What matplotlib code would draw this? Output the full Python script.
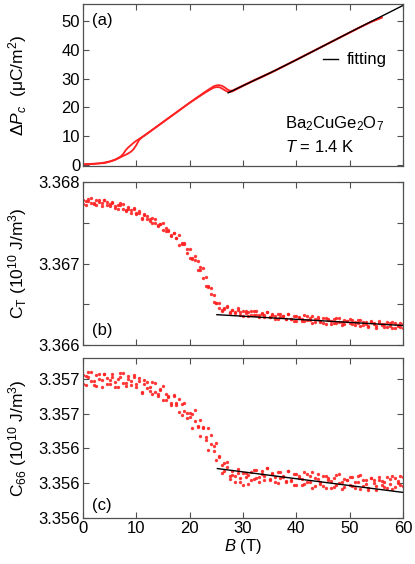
import matplotlib
matplotlib.use('Agg')
import matplotlib.pyplot as plt
import matplotlib.ticker
import numpy as np

# (a) polarization, two field sweeps
b_pol = [0, 1, 2, 3, 4, 5, 6, 7, 7.5, 8, 8.5, 9, 9.5, 10, 10.5, 11, 12, 14, 16, 18, 20, 22, 23, 24,
         24.5, 25, 25.5, 26, 26.5, 27, 27.5, 28, 30, 32, 34, 36, 38, 40, 42, 44, 46, 48, 50, 52, 54, 56]
pol_1 = [0.1, 0.2, 0.3, 0.4, 0.7, 1.1, 1.7, 2.7, 3.6, 5.0, 6.0, 6.8, 7.6, 8.3, 8.9, 9.5, 10.8, 13.5,
         16.2, 18.9, 21.6, 24.2, 25.5, 26.7, 27.3, 27.6, 27.7, 27.5, 27.0, 26.3, 25.8, 25.8, 27.6, 29.4,
         31.1, 32.8, 34.7, 36.6, 38.5, 40.4, 42.3, 44.2, 46.1, 48.0, 49.8, 51.4]
pol_2 = [0.0, 0.1, 0.2, 0.4, 0.5, 1.0, 1.6, 2.5, 3.0, 3.4, 3.9, 4.5, 5.4, 6.8, 8.5, 9.4, 10.7, 13.4,
         16.1, 18.8, 21.5, 24.0, 25.2, 26.3, 26.8, 27.0, 27.0, 26.6, 26.0, 25.5, 25.3, 25.5, 27.4, 29.2,
         30.9, 32.7, 34.6, 36.5, 38.4, 40.3, 42.2, 44.1, 46.0, 47.9, 49.7, 51.2]
b_pol_fit = [27.2, 30, 35, 40, 45, 50, 55, 60]
pol_fit = [25.0, 27.5, 31.9, 36.5, 41.3, 46.1, 50.8, 55.5]

# field grid of the ultrasound data (T)
b_us = [0, 0.5, 1, 1.5, 2, 2.5, 3, 3.5, 4, 4.5, 5, 5.5, 6, 6.5, 7, 7.5, 8, 8.5, 9, 9.5,
        10, 10.5, 11, 11.5, 12, 12.5, 13, 13.5, 14, 14.5, 15, 15.5, 16, 16.5, 17, 17.5, 18, 18.5, 19, 19.5,
        20, 20.5, 21, 21.5, 22, 22.5, 23, 23.5, 24, 24.5, 25, 25.5, 26, 26.5, 27, 27.5, 28, 28.5, 29, 29.5,
        30, 30.5, 31, 31.5, 32, 32.5, 33, 33.5, 34, 34.5, 35, 35.5, 36, 36.5, 37, 37.5, 38, 38.5, 39, 39.5,
        40, 40.5, 41, 41.5, 42, 42.5, 43, 43.5, 44, 44.5, 45, 45.5, 46, 46.5, 47, 47.5, 48, 48.5, 49, 49.5,
        50, 50.5, 51, 51.5, 52, 52.5, 53, 53.5, 54, 54.5, 55, 55.5, 56, 56.5, 57, 57.5, 58, 58.5, 59, 59.5, 60]

# (b) C_T, in 1e-6 above 3.366 (x 1e10 J/m^3)
ct_base = 3.366
ct_up = [1775, 1721, 1765, 1799, 1742, 1716, 1783, 1745, 1780, 1716, 1732, 1740, 1677, 1716, 1741, 1674, 1646, 1689, 1652, 1678,
         1605, 1624, 1550, 1608, 1552, 1547, 1496, 1546, 1471, 1490, 1414, 1437, 1400, 1348, 1378, 1308, 1344, 1238, 1246, 1177,
         1177, 1068, 1086, 1028, 954, 947, 834, 720, 701, 614, 516, 521, 426, 451, 483, 410, 431, 387, 435, 403,
         356, 415, 399, 366, 421, 370, 340, 398, 364, 406, 345, 371, 324, 381, 340, 350, 316, 378, 316, 355,
         293, 340, 322, 295, 352, 302, 358, 277, 315, 284, 331, 259, 315, 298, 266, 330, 283, 248, 305, 292,
         265, 310, 241, 273, 312, 246, 278, 234, 288, 256, 214, 272, 260, 226, 283, 235, 207, 265, 232, 275, 214]
ct_down = [1727, 1771, 1797, 1747, 1724, 1778, 1758, 1705, 1775, 1750, 1710, 1758, 1709, 1668, 1715, 1730, 1661, 1673, 1625, 1666,
           1623, 1643, 1554, 1589, 1584, 1524, 1563, 1498, 1460, 1482, 1496, 1403, 1405, 1337, 1374, 1319, 1232, 1255, 1235, 1133,
           1065, 1054, 1043, 919, 920, 826, 721, 717, 623, 529, 517, 456, 413, 447, 470, 398, 431, 402, 448, 369,
           421, 396, 350, 417, 368, 415, 370, 382, 339, 410, 338, 376, 352, 316, 380, 353, 324, 376, 324, 292,
           353, 327, 291, 362, 305, 336, 269, 325, 344, 300, 276, 330, 306, 258, 318, 276, 334, 286, 255, 293,
           313, 255, 279, 312, 235, 285, 258, 223, 289, 273, 237, 289, 240, 253, 215, 267, 283, 214, 246, 220, 261]
b_ct_fit = [25.1, 60]
ct_fit = [3.366372, 3.366239]

# (c) C66, in 1e-6 above 3.356 (x 1e10 J/m^3)
c66_base = 3.356
c66_up = [772, 815, 840, 790, 767, 821, 801, 752, 825, 805, 772, 826, 783, 751, 808, 834, 775, 799, 762, 810,
          773, 804, 725, 773, 782, 732, 782, 727, 701, 734, 758, 681, 700, 649, 701, 662, 607, 656, 663, 604,
          580, 599, 618, 529, 565, 521, 466, 516, 475, 413, 432, 358, 303, 318, 323, 244, 271, 239, 281, 204,
          259, 237, 196, 267, 223, 275, 236, 254, 216, 289, 219, 259, 237, 202, 267, 241, 213, 268, 219, 188,
          252, 227, 192, 264, 208, 241, 174, 232, 251, 209, 186, 242, 218, 171, 232, 192, 251, 206, 176, 217,
          238, 182, 209, 243, 169, 221, 196, 163, 231, 218, 183, 238, 191, 206, 170, 225, 243, 178, 213, 189, 233]
c66_down = [820, 765, 808, 842, 785, 759, 826, 792, 830, 771, 794, 808, 751, 799, 834, 778, 760, 815, 789, 822,
            755, 785, 721, 792, 750, 755, 715, 775, 712, 742, 676, 715, 695, 660, 705, 651, 684, 592, 614, 574,
            602, 516, 556, 523, 474, 515, 449, 390, 426, 384, 331, 349, 256, 271, 293, 224, 249, 207, 260, 232,
            190, 256, 245, 216, 276, 230, 206, 270, 241, 285, 226, 254, 209, 267, 227, 238, 205, 270, 211, 251,
            192, 240, 223, 197, 255, 207, 263, 184, 222, 193, 241, 171, 227, 211, 180, 246, 200, 168, 226, 216,
            190, 237, 171, 204, 246, 182, 216, 174, 230, 201, 160, 221, 211, 179, 238, 193, 167, 229, 199, 244, 186]
b_c66_fit = [25.2, 60]
c66_fit = [3.356284, 3.356147]

red = '#ff2222'
frame = '#505050'

plt.rcParams['font.family'] = ['Liberation Sans', 'DejaVu Sans']
plt.rcParams['mathtext.fontset'] = 'custom'
plt.rcParams['mathtext.rm'] = 'Liberation Sans'
plt.rcParams['mathtext.it'] = 'Liberation Sans:italic'
plt.rcParams['font.size'] = 12

fig = plt.figure(figsize=(4.15, 5.64), dpi=100)
ax_a = fig.add_axes([0.2, 0.7057, 0.7711, 0.2872])
ax_b = fig.add_axes([0.2, 0.3883, 0.7711, 0.2890])
ax_c = fig.add_axes([0.2, 0.0816, 0.7711, 0.2837])


def style_axis(ax):
    ax.set_xlim(0, 60)
    ax.xaxis.set_major_locator(matplotlib.ticker.MultipleLocator(10))
    ax.tick_params(which='both', direction='in', top=True, right=True, length=4, width=0.8,
                   color=frame, labelsize=12, pad=2)
    for s in ax.spines.values():
        s.set_color(frame)
        s.set_linewidth(0.9)
    ax.yaxis.set_label_coords(-0.17, 0.5)


def scatter(ax, x, y):
    ax.plot(x, y, 'o', color=red, ms=2.4, mew=0, alpha=0.9)


# (a)
ax_a.plot(b_pol, pol_2, color=red, lw=1.3)
ax_a.plot(b_pol, pol_1, color=red, lw=1.3)
fit_line, = ax_a.plot(b_pol_fit, pol_fit, color='black', lw=1.0)
ax_a.set_ylim(-0.5, 56)
ax_a.set_yticks([0, 10, 20, 30, 40, 50])
style_axis(ax_a)
ax_a.tick_params(labelbottom=False)
ax_a.set_ylabel(r'$\Delta P_c$  ($\mathrm{\mu}$C/m$^2$)', fontsize=12.5)
ax_a.legend([fit_line], ['fitting'], loc='center left', bbox_to_anchor=(0.73, 0.655), frameon=False,
            handlelength=0.9, handletextpad=0.5, borderaxespad=0, fontsize=12)
ax_a.text(0.028, 0.9, '(a)', transform=ax_a.transAxes, va='center')
ax_a.text(0.63, 0.26, r'Ba$_2$CuGe$_2$O$_7$', transform=ax_a.transAxes, va='center')
ax_a.text(0.63, 0.12, r'$T$ = 1.4 K', transform=ax_a.transAxes, va='center')

# (b)
scatter(ax_b, b_us, ct_base + np.array(ct_up) * 1e-6)
scatter(ax_b, b_us, ct_base + np.array(ct_down) * 1e-6)
ax_b.plot(b_ct_fit, ct_fit, color='black', lw=1.0)
ax_b.set_ylim(3.366, 3.368)
ax_b.yaxis.set_major_locator(matplotlib.ticker.MultipleLocator(0.001))
ax_b.yaxis.set_minor_locator(matplotlib.ticker.MultipleLocator(0.0005))
ax_b.yaxis.set_major_formatter(matplotlib.ticker.FormatStrFormatter('%.3f'))
style_axis(ax_b)
ax_b.tick_params(labelbottom=False)
ax_b.set_ylabel(r'C$_\mathrm{T}$ (10$^{10}$ J/m$^3$)', fontsize=12.5)
ax_b.text(0.028, 0.09, '(b)', transform=ax_b.transAxes, va='center')

# (c)
scatter(ax_c, b_us, c66_base + np.array(c66_up) * 1e-6)
scatter(ax_c, b_us, c66_base + np.array(c66_down) * 1e-6)
ax_c.plot(b_c66_fit, c66_fit, color='black', lw=1.0)
ax_c.set_ylim(3.3560, 3.35692)
ax_c.set_yticks([3.3560, 3.3562, 3.3564, 3.3566, 3.3568])
ax_c.yaxis.set_major_formatter(matplotlib.ticker.FormatStrFormatter('%.3f'))
style_axis(ax_c)
ax_c.set_ylabel(r'C$_{66}$ (10$^{10}$ J/m$^3$)', fontsize=12.5)
ax_c.set_xlabel(r'$B$ (T)', labelpad=1)
ax_c.text(0.028, 0.08, '(c)', transform=ax_c.transAxes, va='center')

plt.savefig('out.png', dpi=100)
plt.close()
